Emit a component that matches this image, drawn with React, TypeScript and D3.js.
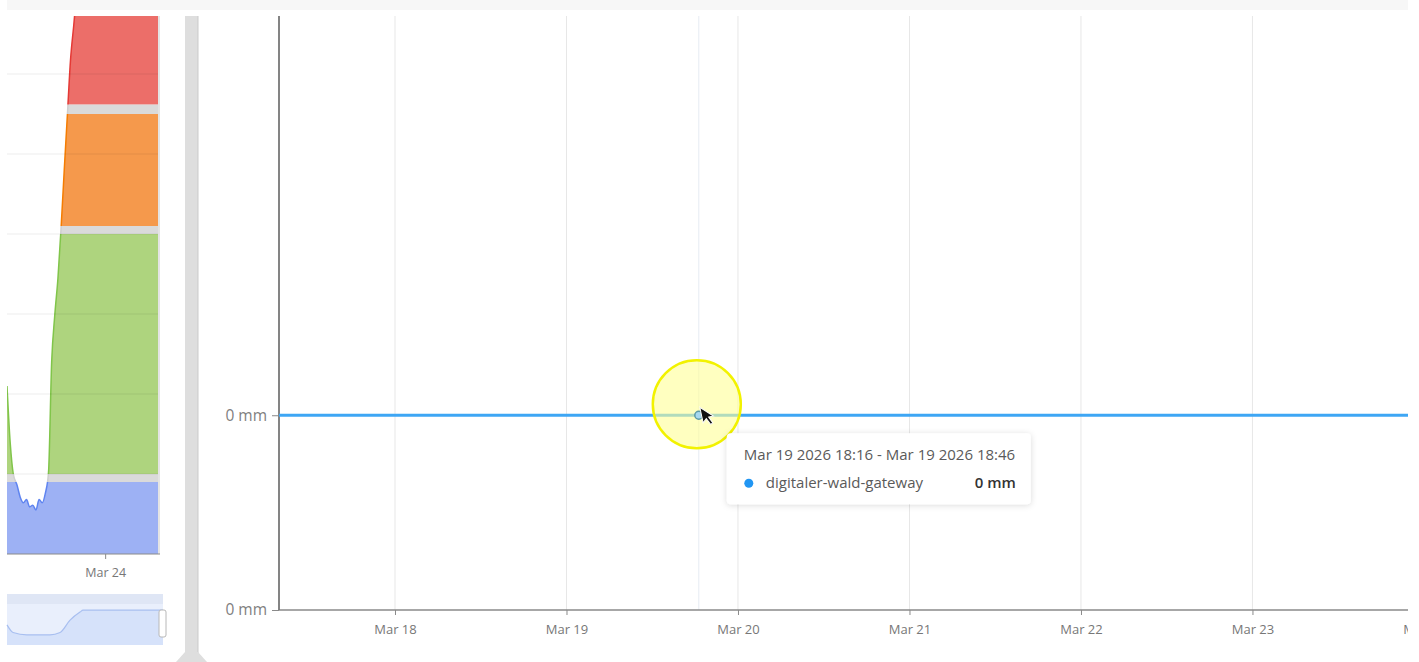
import React, { useEffect, useRef } from 'react';
import * as d3 from 'd3';

const parse = d3.timeParse('%Y-%m-%d %H:%M');

// main chart (rain)
const mainDomain = ['2026-03-17 07:46', '2026-03-23 21:46'];
const mainTicks = [
  '2026-03-18 00:00', '2026-03-19 00:00', '2026-03-20 00:00', '2026-03-21 00:00',
  '2026-03-22 00:00', '2026-03-23 00:00', '2026-03-24 00:00',
];
const mainTickLabels = ['Mar 18', 'Mar 19', 'Mar 20', 'Mar 21', 'Mar 22', 'Mar 23', 'Mar 24'];
const rainTimes = [
  '2026-03-17 06:00', '2026-03-18 00:00', '2026-03-19 00:00', '2026-03-20 00:00',
  '2026-03-21 00:00', '2026-03-22 00:00', '2026-03-23 00:00', '2026-03-24 00:00',
];
const rainValues = [0, 0, 0, 0, 0, 0, 0, 0];
const yDomain = [-0.2, 0.41];
const yTicks = [-0.2, 0];
const yTickLabels = ['0 mm', '0 mm'];
const hoverTime = '2026-03-19 18:31';
const tooltipTitle = 'Mar 19 2026 18:16 - Mar 19 2026 18:46';
const seriesName = 'digitaler-wald-gateway';
const hoverLabel = '0 mm';

// left chart (threshold bands)
const leftDomain = ['2026-03-23 16:12', '2026-03-24 04:12'];
const leftTimes = [
  '2026-03-23 16:12', '2026-03-23 16:27', '2026-03-23 16:42', '2026-03-23 17:00',
  '2026-03-23 17:15', '2026-03-23 17:30', '2026-03-23 17:45', '2026-03-23 18:00',
  '2026-03-23 18:15', '2026-03-23 18:30', '2026-03-23 18:45', '2026-03-23 19:00',
  '2026-03-23 19:15', '2026-03-23 19:30', '2026-03-23 19:45', '2026-03-23 20:00',
  '2026-03-23 20:15', '2026-03-23 20:30', '2026-03-23 20:45', '2026-03-23 21:00',
  '2026-03-23 21:15', '2026-03-23 21:30', '2026-03-23 21:45', '2026-03-23 22:30',
  '2026-03-23 23:30', '2026-03-24 00:30', '2026-03-24 01:30', '2026-03-24 02:30',
  '2026-03-24 03:30', '2026-03-24 04:12',
];
const leftValues = [
  21, 14, 10, 8.6, 7.1, 6.4, 6.8, 5.9, 6.1, 5.5, 6.8, 6.4, 7.6, 10.2, 24, 29.9,
  34.5, 40.8, 48, 54.9, 61.8, 66, 70, 73, 74, 74, 75, 74, 75, 75,
];
const leftGrid = [10, 20, 30, 40, 50, 60];
const leftTicks = ['2026-03-24 00:00'];
const leftTickLabels = ['Mar 24'];
const bandLow = [0, 9, 10, 40, 41, 55, 56.2];
const bandHigh = [9, 10, 40, 41, 55, 56.2, 90];
const bandFill = ['#9db1f4', '#dadada', '#aed47e', '#dadada', '#f5994c', '#dadada', '#ec6e69'];
const bandStroke = ['#5f84f0', '#cfcfcf', '#80c54a', '#cfcfcf', '#f57c00', '#cfcfcf', '#e53935'];

// navigator
const navTimes = [
  '2026-03-23 16:12', '2026-03-23 16:40', '2026-03-23 17:44', '2026-03-23 19:30',
  '2026-03-23 20:17', '2026-03-23 21:03', '2026-03-23 21:49', '2026-03-23 22:03',
  '2026-03-24 04:12',
];
const navValues = [36, 20, 15, 15, 20, 46, 63, 67, 67];

const FONT = '"Open Sans", Roboto, sans-serif';

const App: React.FC = () => {
  const svgRef = useRef<SVGSVGElement>(null);

  useEffect(() => {
    const svg = d3.select(svgRef.current);
    svg.selectAll('*').remove();
    const defs = svg.append('defs');

    // top strip
    svg.append('rect').attr('x', 7).attr('y', 0).attr('width', 1401).attr('height', 10).attr('fill', '#f7f7f7');

    // ---------- left panel ----------
    const lx = d3.scaleTime().domain(leftDomain.map(d => parse(d)!)).range([7, 158]);
    const ly = d3.scaleLinear().domain([0, 67.25]).range([554, 16]);
    const lData = leftTimes.map((t, i) => ({ t: parse(t)!, v: leftValues[i] }));

    defs.append('clipPath').attr('id', 'left-plot')
      .append('rect').attr('x', 7).attr('y', 16).attr('width', 151).attr('height', 538);

    const area = d3.area<any>().x(d => lx(d.t)).y0(ly(0)).y1(d => ly(d.v)).curve(d3.curveMonotoneX);
    const line = d3.line<any>().x(d => lx(d.t)).y(d => ly(d.v)).curve(d3.curveMonotoneX);

    defs.append('clipPath').attr('id', 'left-area').append('path').attr('d', area(lData) as string);

    const lg = svg.append('g').attr('clip-path', 'url(#left-plot)');
    const bandG = lg.append('g').attr('clip-path', 'url(#left-area)');
    bandLow.forEach((lo, i) => {
      bandG.append('rect')
        .attr('x', 7).attr('width', 151)
        .attr('y', ly(bandHigh[i])).attr('height', ly(lo) - ly(bandHigh[i]))
        .attr('fill', bandFill[i]);
      defs.append('clipPath').attr('id', `band-${i}`)
        .append('rect').attr('x', 0).attr('width', 200)
        .attr('y', ly(bandHigh[i])).attr('height', ly(lo) - ly(bandHigh[i]));
      lg.append('g').attr('clip-path', `url(#band-${i})`)
        .append('path').attr('d', line(lData) as string)
        .attr('fill', 'none').attr('stroke', bandStroke[i]).attr('stroke-width', 1.5);
    });

    leftGrid.forEach(v => {
      svg.append('line').attr('x1', 7).attr('x2', 160).attr('y1', ly(v)).attr('y2', ly(v))
        .attr('stroke', 'rgba(0,0,0,0.07)');
    });
    svg.append('line').attr('x1', 159).attr('x2', 159).attr('y1', 16).attr('y2', 554)
      .attr('stroke', '#e4e4e4').attr('stroke-width', 2);

    const lAxis = svg.append('g').attr('transform', 'translate(0,554)')
      .call(d3.axisBottom(lx)
        .tickValues(leftTicks.map(d => parse(d)!))
        .tickFormat((_d, i) => leftTickLabels[i])
        .tickSize(5).tickSizeOuter(0));
    lAxis.select('.domain').attr('d', 'M7,0H160').attr('stroke', '#8a8a8a');
    lAxis.selectAll('.tick line').attr('stroke', '#8a8a8a');
    lAxis.selectAll('text').attr('fill', '#777').style('font-size', '12.5px')
      .style('font-family', FONT).attr('dy', '1.2em');

    // navigator
    const nx = d3.scaleTime().domain(leftDomain.map(d => parse(d)!)).range([7, 163]);
    const ny = d3.scaleLinear().domain([0, 80]).range([642, 604]);
    const nData = navTimes.map((t, i) => ({ t: parse(t)!, v: navValues[i] }));
    svg.append('rect').attr('x', 7).attr('y', 594).attr('width', 156).attr('height', 51).attr('fill', '#e9effc');
    svg.append('rect').attr('x', 7).attr('y', 594).attr('width', 156).attr('height', 10).attr('fill', '#dfe6f5');
    svg.append('path')
      .attr('d', d3.area<any>().x(d => nx(d.t)).y0(645).y1(d => ny(d.v)).curve(d3.curveMonotoneX)(nData) as string)
      .attr('fill', '#d6e2fa');
    svg.append('path')
      .attr('d', d3.line<any>().x(d => nx(d.t)).y(d => ny(d.v)).curve(d3.curveMonotoneX)(nData) as string)
      .attr('fill', 'none').attr('stroke', '#a8bff0').attr('stroke-width', 1.2);
    svg.append('rect').attr('x', 159).attr('y', 610).attr('width', 7).attr('height', 27).attr('rx', 2)
      .attr('fill', '#fff').attr('stroke', '#b8b8b8');

    // divider
    svg.append('rect').attr('x', 185).attr('y', 16).attr('width', 13).attr('height', 640).attr('fill', '#dedede');
    svg.append('line').attr('x1', 198).attr('x2', 198).attr('y1', 16).attr('y2', 654).attr('stroke', '#cbcbcb');
    svg.append('path').attr('d', 'M185,652 L198,652 L207,662 L176,662 Z').attr('fill', '#dedede');

    // ---------- main chart ----------
    const x = d3.scaleTime().domain(mainDomain.map(d => parse(d)!)).range([279, 1408]);
    const y = d3.scaleLinear().domain(yDomain).range([610, 16]);

    defs.append('clipPath').attr('id', 'main-clip')
      .append('rect').attr('x', 270).attr('y', 0).attr('width', 1138).attr('height', 662);
    defs.append('clipPath').attr('id', 'plot-clip')
      .append('rect').attr('x', 279).attr('y', 16).attr('width', 1129).attr('height', 594);
    const mg = svg.append('g').attr('clip-path', 'url(#main-clip)');

    const tickDates = mainTicks.map(d => parse(d)!);
    tickDates.forEach(d => {
      mg.append('line').attr('x1', x(d)).attr('x2', x(d)).attr('y1', 16).attr('y2', 610)
        .attr('stroke', '#e7e7e7');
    });
    const hx = x(parse(hoverTime)!);
    mg.append('line').attr('x1', hx).attr('x2', hx).attr('y1', 16).attr('y2', 610)
      .attr('stroke', '#e6ebf3');

    const xAxis = mg.append('g').attr('transform', 'translate(0,610)')
      .call(d3.axisBottom(x)
        .tickValues(tickDates)
        .tickFormat((_d, i) => mainTickLabels[i])
        .tickSize(5).tickSizeOuter(0));
    xAxis.select('.domain').attr('d', 'M279,0H1408').attr('stroke', '#8a8a8a').attr('stroke-width', 1.5);
    xAxis.selectAll('.tick line').attr('stroke', '#8a8a8a');
    xAxis.selectAll('text').attr('fill', '#777').style('font-size', '13px')
      .style('font-family', FONT).attr('dy', '1.25em');

    const yAxis = svg.append('g').attr('transform', 'translate(279,0)')
      .call(d3.axisLeft(y)
        .tickValues(yTicks)
        .tickFormat((_d, i) => yTickLabels[i])
        .tickSize(7).tickSizeOuter(0));
    yAxis.select('.domain').attr('d', 'M0,16V610').attr('stroke', '#777').attr('stroke-width', 1.8);
    yAxis.selectAll('.tick line').attr('stroke', '#8a8a8a');
    yAxis.selectAll('text').attr('fill', '#808080').style('font-size', '15.5px')
      .style('font-family', FONT).attr('x', -12);

    const rain = rainTimes.map((t, i) => ({ t: parse(t)!, v: rainValues[i] }));
    svg.append('g').attr('clip-path', 'url(#plot-clip)').append('path')
      .attr('d', d3.line<any>().x(d => x(d.t)).y(d => y(d.v))(rain) as string)
      .attr('fill', 'none').attr('stroke', '#3ea6f4').attr('stroke-width', 3);

    // hover highlight
    const hy = y(0);
    svg.append('circle').attr('cx', hx - 2).attr('cy', hy - 11).attr('r', 44)
      .attr('fill', 'rgba(255,255,150,0.6)').attr('stroke', '#f2f200').attr('stroke-width', 2.5);
    svg.append('circle').attr('cx', hx).attr('cy', hy).attr('r', 4)
      .attr('fill', '#a8d8f0').attr('stroke', '#5d9aa6').attr('stroke-width', 1.5);
    svg.append('path')
      .attr('d', 'M0,0 L0,16 L4,12.5 L7,19 L9.5,18 L6.6,11.5 L11.5,11.5 Z')
      .attr('transform', `translate(${hx + 1},${hy - 8}) rotate(-12)`)
      .attr('fill', '#111').attr('stroke', '#fff').attr('stroke-width', 1);

    // tooltip
    const filter = defs.append('filter').attr('id', 'shadow').attr('x', '-10%').attr('y', '-20%')
      .attr('width', '120%').attr('height', '150%');
    filter.append('feDropShadow').attr('dx', 0).attr('dy', 1).attr('stdDeviation', 3)
      .attr('flood-color', '#000').attr('flood-opacity', 0.15);
    const tx = hx + 28;
    const ty = hy + 18;
    const tip = svg.append('g').attr('transform', `translate(${tx},${ty})`).style('font-family', FONT);
    tip.append('rect').attr('width', 304).attr('height', 71).attr('rx', 4)
      .attr('fill', '#fff').attr('filter', 'url(#shadow)');
    tip.append('text').attr('x', 17).attr('y', 27).attr('fill', '#5a5a5a').style('font-size', '15px')
      .text(tooltipTitle);
    tip.append('circle').attr('cx', 22).attr('cy', 50).attr('r', 4.5).attr('fill', '#2196f3');
    tip.append('text').attr('x', 39).attr('y', 55).attr('fill', '#5a5a5a').style('font-size', '15px')
      .text(seriesName);
    tip.append('text').attr('x', 289).attr('y', 55).attr('fill', '#333').attr('text-anchor', 'end')
      .style('font-size', '15px').style('font-weight', 600).text(hoverLabel);
  }, []);

  return (
    <svg
      ref={svgRef}
      width={1419}
      height={662}
      style={{ position: 'absolute', top: 0, left: 0, background: '#fff' }}
    />
  );
};

export default App;
